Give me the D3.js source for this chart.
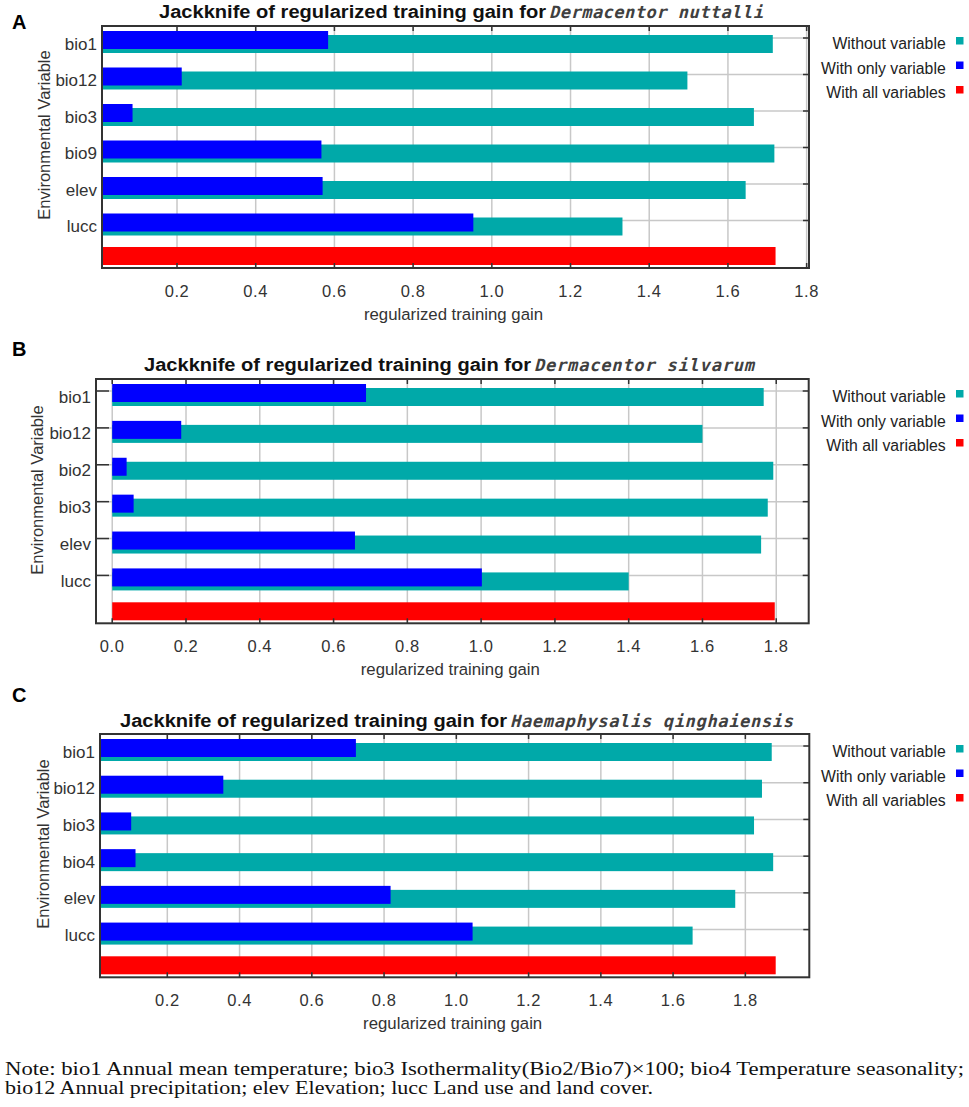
<!DOCTYPE html>
<html>
<head>
<meta charset="utf-8">
<script src="https://cdn.jsdelivr.net/npm/d3@7"></script>
<style>
  body { margin: 0; background: #fff; }
  svg { display: block; }
</style>
</head>
<body>
<svg id="chart" width="969" height="1107"></svg>
<script>
// ---- data ----
const panelLetters = ["A", "B", "C"];
const species = ["Dermacentor nuttalli", "Dermacentor silvarum", "Haemaphysalis qinghaiensis"];

const varsA = ["bio1", "bio12", "bio3", "bio9", "elev", "lucc"];
const withoutA = [1.714, 1.497, 1.666, 1.718, 1.645, 1.332];
const onlyA = [0.584, 0.212, 0.087, 0.567, 0.570, 0.953];
const allA = 1.721;

const varsB = ["bio1", "bio12", "bio2", "bio3", "elev", "lucc"];
const withoutB = [1.766, 1.600, 1.792, 1.777, 1.759, 1.400];
const onlyB = [0.688, 0.187, 0.039, 0.058, 0.658, 1.002];
const allB = 1.796;

const varsC = ["bio1", "bio12", "bio3", "bio4", "elev", "lucc"];
const withoutC = [1.873, 1.846, 1.824, 1.877, 1.772, 1.654];
const onlyC = [0.722, 0.355, 0.100, 0.112, 0.818, 1.045];
const allC = 1.884;

const ticksA = [0.2, 0.4, 0.6, 0.8, 1.0, 1.2, 1.4, 1.6, 1.8];
const ticksB = [0.0, 0.2, 0.4, 0.6, 0.8, 1.0, 1.2, 1.4, 1.6, 1.8];
const ticksC = [0.2, 0.4, 0.6, 0.8, 1.0, 1.2, 1.4, 1.6, 1.8];

const domainA = [0.0094, 1.806];
const domainB = [-0.044, 1.888];
const domainC = [0.0137, 1.977];

const legendLabels = ["Without variable", "With only variable", "With all variables"];
const noteLines = [
  "Note: bio1 Annual mean temperature; bio3 Isothermality(Bio2/Bio7)\u00D7100; bio4 Temperature seasonality;",
  "bio12 Annual precipitation; elev Elevation; lucc Land use and land cover."
];

const colWithout = "#00a9a9", colOnly = "#0000ff", colAll = "#ff0000";
const legendColors = [colWithout, colOnly, colAll];

const sans = "Arial, 'Liberation Sans', sans-serif";

// ---- layout of each panel (pixels) ----
const layout = [
  {left: 102, right: 809, top: 26, bottom: 268, titleX: 159, titleY: 18.3, spLen: 214, letterY: 29.3, yTitleX: 50, yTitleY: 135, labRight: 97},
  {left: 96, right: 808.7, top: 379, bottom: 623.3, titleX: 144, titleY: 371, spLen: 220, letterY: 356, yTitleX: 42.7, yTitleY: 490, labRight: 91},
  {left: 100, right: 809.3, top: 734, bottom: 977.3, titleX: 120, titleY: 726.5, spLen: 283, letterY: 702, yTitleX: 48.7, yTitleY: 844, labRight: 95}
];

const panels = [
  {vars: varsA, without: withoutA, only: onlyA, all: allA, ticks: ticksA, domain: domainA},
  {vars: varsB, without: withoutB, only: onlyB, all: allB, ticks: ticksB, domain: domainB},
  {vars: varsC, without: withoutC, only: onlyC, all: allC, ticks: ticksC, domain: domainC}
];

const svg = d3.select("#chart");

panels.forEach((p, k) => {
  const L = layout[k];
  const g = svg.append("g").style("font-family", sans);

  const x = d3.scaleLinear().domain(p.domain).range([L.left, L.right]);
  const rows = p.vars.concat(["__all"]);
  const y = d3.scalePoint().domain(rows).range([L.top + 12, L.bottom - 11]);
  const x0 = Math.max(x(0), L.left);

  // grid
  g.selectAll(".vgrid").data(p.ticks).join("line")
    .attr("x1", d => x(d)).attr("x2", d => x(d))
    .attr("y1", L.top).attr("y2", L.bottom)
    .attr("stroke", "#c8c8c8").attr("stroke-width", 1.5);
  g.selectAll(".hgrid").data(p.vars).join("line")
    .attr("x1", L.left).attr("x2", L.right)
    .attr("y1", d => y(d)).attr("y2", d => y(d))
    .attr("stroke", "#c8c8c8").attr("stroke-width", 1.5);

  // bars
  const rowData = p.vars.map((v, i) => ({v, without: p.without[i], only: p.only[i]}));
  g.selectAll(".without").data(rowData).join("rect")
    .attr("x", x0).attr("y", d => y(d.v) - 3)
    .attr("width", d => x(d.without) - x0).attr("height", 18)
    .attr("fill", colWithout);
  g.selectAll(".only").data(rowData).join("rect")
    .attr("x", x0).attr("y", d => y(d.v) - 7)
    .attr("width", d => x(d.only) - x0).attr("height", 18)
    .attr("fill", colOnly);
  g.append("rect")
    .attr("x", x0).attr("y", y("__all") - 10)
    .attr("width", x(p.all) - x0).attr("height", 18)
    .attr("fill", colAll);

  // frame + ticks
  g.append("rect")
    .attr("x", L.left).attr("y", L.top)
    .attr("width", L.right - L.left).attr("height", L.bottom - L.top)
    .attr("fill", "none").attr("stroke", "#333").attr("stroke-width", 2);
  g.selectAll(".ttick").data(p.ticks).join("line")
    .attr("x1", d => x(d)).attr("x2", d => x(d))
    .attr("y1", L.top).attr("y2", L.top + 5)
    .attr("stroke", "#333").attr("stroke-width", 1.5);
  g.selectAll(".btick").data(p.ticks).join("line")
    .attr("x1", d => x(d)).attr("x2", d => x(d))
    .attr("y1", L.bottom).attr("y2", L.bottom - 5)
    .attr("stroke", "#333").attr("stroke-width", 1.5);
  g.selectAll(".rtick").data(p.vars).join("line")
    .attr("x1", L.right).attr("x2", L.right - 6)
    .attr("y1", d => y(d)).attr("y2", d => y(d))
    .attr("stroke", "#333").attr("stroke-width", 1.5);
  g.selectAll(".ltick").data(p.vars).join("line")
    .attr("x1", L.left).attr("x2", Math.min(L.left + 13, x0))
    .attr("y1", d => y(d)).attr("y2", d => y(d))
    .attr("stroke", "#333").attr("stroke-width", 1.5);

  // tick labels
  g.selectAll(".tlab").data(p.ticks).join("text")
    .attr("x", d => x(d)).attr("y", L.bottom + 28.5)
    .attr("text-anchor", "middle")
    .attr("font-size", 16.5).attr("fill", "#333")
    .style("letter-spacing", "0.6px")
    .text(d => d3.format(".1f")(d));

  // category labels
  g.selectAll(".clab").data(p.vars).join("text")
    .attr("x", L.labRight).attr("y", d => y(d) + 11.5)
    .attr("text-anchor", "end")
    .attr("font-size", 17).attr("fill", "#333")
    .text(d => d);

  // axis titles
  g.append("text")
    .attr("x", (L.left + L.right) / 2 - 2).attr("y", L.bottom + 52)
    .attr("text-anchor", "middle").attr("font-size", 16.8).attr("fill", "#333")
    .text("regularized training gain");
  g.append("text")
    .attr("transform", `translate(${L.yTitleX},${L.yTitleY}) rotate(-90)`)
    .attr("text-anchor", "middle").attr("font-size", 16.5).attr("fill", "#333")
    .text("Environmental Variable");

  // title
  g.append("text")
    .attr("x", L.titleX).attr("y", L.titleY)
    .attr("font-size", 18).attr("font-weight", "bold").attr("fill", "#111")
    .attr("textLength", 387).attr("lengthAdjust", "spacingAndGlyphs")
    .text("Jackknife of regularized training gain for");
  // species name: slanted monospace
  g.append("text")
    .attr("transform", `translate(${L.titleX + 390},${L.titleY}) skewX(-14)`)
    .style("font-family", "'DejaVu Sans Mono', 'Liberation Mono', monospace")
    .attr("font-size", 17).attr("font-weight", "bold")
    .attr("fill", "#404040")
    .attr("textLength", L.spLen).attr("lengthAdjust", "spacing")
    .text(species[k]);

  // panel letter
  g.append("text")
    .attr("x", 12).attr("y", L.letterY)
    .attr("font-size", 20).attr("font-weight", "bold").attr("fill", "#000")
    .text(panelLetters[k]);

  // legend
  const leg = g.selectAll(".leg").data(legendLabels).join("g")
    .attr("transform", (d, i) => `translate(0,${L.top + 17.5 + i * 24.5})`);
  leg.append("text")
    .attr("x", 945.7).attr("y", 5.5)
    .attr("text-anchor", "end").attr("font-size", 15.8).attr("fill", "#222")
    .text(d => d);
  leg.append("rect")
    .attr("x", 956).attr("y", -6.5).attr("width", 7.5).attr("height", 7.5)
    .attr("fill", (d, i) => legendColors[i]);
});

// note below the figure
svg.selectAll(".note").data(noteLines).join("text")
  .attr("x", 5).attr("y", (d, i) => 1074.5 + i * 19)
  .style("font-family", "'Liberation Serif', 'Times New Roman', serif")
  .attr("font-size", 19.5).attr("fill", "#111")
  .attr("textLength", (d, i) => i === 0 ? 959 : 648)
  .attr("lengthAdjust", "spacingAndGlyphs")
  .text(d => d);
</script>
</body>
</html>
